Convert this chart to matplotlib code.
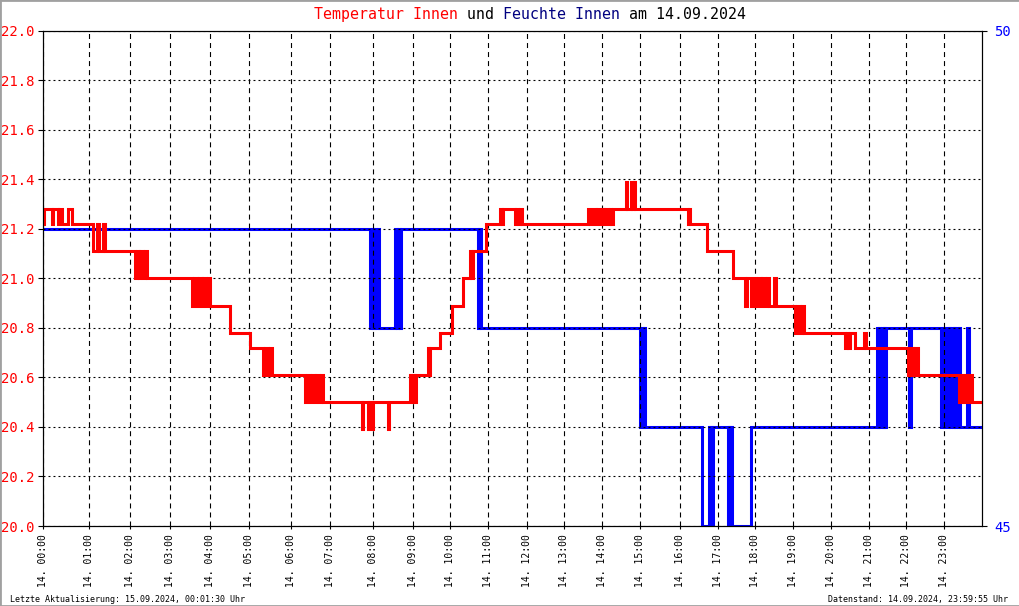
import matplotlib
matplotlib.use('Agg')
import matplotlib.pyplot as plt
from matplotlib.patches import Rectangle

plt.rcParams['font.family'] = 'DejaVu Sans Mono'
plt.rcParams['lines.scale_dashes'] = False

# x axis of the original is the sample number, hours start at these samples
n_samples = 939
hour_idx = [0, 46, 87, 127, 167, 206, 248, 287, 330, 370, 407, 445,
            484, 521, 559, 597, 637, 675, 712, 750, 788, 826, 863, 901]
hour_labels = ['14. %02d:00' % h for h in range(24)]

# Temperatur Innen (left axis), value changes at sample number
temp_idx = [0, 1, 9, 10, 15, 16, 19, 25, 29,
            50, 54, 56, 60, 62,
            92, 94, 96, 97, 100, 102, 104,
            149, 151, 154, 156, 159, 160, 163, 165, 167,
            187, 207,
            220, 222, 225, 227, 229,
            262, 264, 267, 269, 272, 273, 276, 278, 280,
            319, 320, 325, 326, 329, 330, 345, 346,
            367, 369, 370, 372, 373,
            385, 386, 387,
            397, 409, 420, 427, 428, 430,
            443, 457, 459, 460, 472, 473, 475, 477, 479,
            545, 547, 550, 553, 554, 557, 559, 561, 562, 565, 567, 568, 570,
            583, 584, 588, 589, 591, 592,
            645, 646, 647,
            664, 690,
            702, 704, 708, 711, 713, 715, 718, 719, 722, 724, 726, 731, 733,
            752, 754, 757, 759, 761,
            802, 804, 805, 807, 812, 821, 823,
            865, 867, 870, 872, 875,
            916, 918, 921, 922, 925, 926, 929]
temp_val = [21.22, 21.28, 21.22, 21.28, 21.22, 21.28, 21.22, 21.28, 21.22,
            21.11, 21.22, 21.11, 21.22, 21.11,
            21.00, 21.11, 21.00, 21.11, 21.00, 21.11, 21.00,
            20.89, 21.00, 20.89, 21.00, 20.89, 21.00, 20.89, 21.00, 20.89,
            20.78, 20.72,
            20.61, 20.72, 20.61, 20.72, 20.61,
            20.50, 20.61, 20.50, 20.61, 20.50, 20.61, 20.50, 20.61, 20.50,
            20.39, 20.50, 20.39, 20.50, 20.39, 20.50, 20.39, 20.50,
            20.61, 20.50, 20.61, 20.50, 20.61,
            20.72, 20.61, 20.72,
            20.78, 20.89, 21.00, 21.11, 21.00, 21.11,
            21.22, 21.28, 21.22, 21.28, 21.22, 21.28, 21.22, 21.28, 21.22,
            21.28, 21.22, 21.28, 21.22, 21.28, 21.22, 21.28, 21.22, 21.28, 21.22, 21.28, 21.22, 21.28,
            21.39, 21.28, 21.39, 21.28, 21.39, 21.28,
            21.22, 21.28, 21.22,
            21.11, 21.00,
            20.89, 21.00, 20.89, 21.00, 20.89, 21.00, 20.89, 21.00, 20.89, 21.00, 20.89, 21.00, 20.89,
            20.78, 20.89, 20.78, 20.89, 20.78,
            20.72, 20.78, 20.72, 20.78, 20.72, 20.78, 20.72,
            20.61, 20.72, 20.61, 20.72, 20.61,
            20.50, 20.61, 20.50, 20.61, 20.50, 20.61, 20.50]

# Feuchte Innen (right axis)
hum_idx = [0, 327, 329, 330, 332, 333, 335, 336,
           352, 354, 355, 357, 358,
           435, 436, 438,
           597, 599, 600, 601, 602,
           659, 666, 667, 668, 669, 670,
           685, 686, 687, 688, 689,
           708,
           834, 835, 836, 837, 839, 840, 841, 842, 843,
           866, 868,
           898, 900, 901, 902,
           905, 906, 907, 908, 910, 911, 912, 913, 915, 916, 917,
           924, 926]
hum_val = [48, 47, 48, 47, 48, 47, 48, 47,
           48, 47, 48, 47, 48,
           47, 48, 47,
           46, 47, 46, 47, 46,
           45, 46, 45, 46, 45, 46,
           45, 46, 45, 46, 45,
           46,
           47, 46, 47, 46, 47, 46, 47, 46, 47,
           46, 47,
           46, 47, 46, 47,
           46, 47, 46, 47, 46, 47, 46, 47, 46, 47, 46,
           47, 46]

temp_ticks = [20.0, 20.2, 20.4, 20.6, 20.8, 21.0, 21.2, 21.4, 21.6, 21.8, 22.0]
hum_ticks = [45, 50]

fig = plt.figure(figsize=(10.2, 6.06), dpi=100)
ax = fig.add_axes([0.0424, 0.132, 0.9203, 0.8173])
ax2 = ax.twinx()
ax2.set_zorder(ax.get_zorder() - 1)
ax.patch.set_visible(False)

ax2.plot(hum_idx + [n_samples], hum_val + [hum_val[-1]], drawstyle='steps-post',
         color='#0000ff', lw=2.2, solid_joinstyle='miter')
ax.plot(temp_idx + [n_samples], temp_val + [temp_val[-1]], drawstyle='steps-post',
        color='#ff0000', lw=2.2, solid_joinstyle='miter')

ax.set_xlim(0, n_samples)
ax.set_ylim(20, 22)
ax2.set_ylim(45, 50)
ax.set_xticks(hour_idx, hour_labels, rotation=90)
ax.set_yticks(temp_ticks, ['%.1f' % v for v in temp_ticks])
ax2.set_yticks(hum_ticks, [str(v) for v in hum_ticks])

ax.set_axisbelow('line')
ax.xaxis.grid(True, color='black', lw=0.8, ls=(0, (3.6, 2.9)))
ax.yaxis.grid(True, color='black', lw=0.8, ls=(0, (1.4, 2.2)))

ax.tick_params(axis='y', direction='out', length=3.6, width=0.8, pad=2.5,
               labelsize=10, labelcolor='#ff0000')
ax.tick_params(axis='x', direction='out', length=2.5, width=0.8, pad=3, labelsize=7)
ax2.tick_params(axis='y', direction='out', length=3.6, width=0.8, pad=5,
                labelsize=10, labelcolor='#0000ff')
for a in (ax, ax2):
    for s in a.spines.values():
        s.set_linewidth(0.8)
        s.set_color('black')

# title in three colours
t1 = fig.text(0.3078, 0.963, 'Temperatur Innen', color='#ff0000', fontsize=10.75, va='bottom')
t2 = ax.annotate(' und', xy=(1, 0), xycoords=t1, color='black', fontsize=10.75,
                 va='bottom', annotation_clip=False)
t3 = ax.annotate(' Feuchte Innen', xy=(1, 0), xycoords=t2, color='#000080', fontsize=10.75,
                 va='bottom', annotation_clip=False)
ax.annotate(' am 14.09.2024', xy=(1, 0), xycoords=t3, color='black', fontsize=10.75,
            va='bottom', annotation_clip=False)

fig.text(0.0098, 0.0115, 'Letzte Aktualisierung: 15.09.2024, 00:01:30 Uhr',
         fontsize=6, va='center', ha='left')
fig.text(0.988, 0.0115, 'Datenstand: 14.09.2024, 23:59:55 Uhr',
         fontsize=6, va='center', ha='right')

fig.patches.append(Rectangle((0, 0), 1, 1, transform=fig.transFigure, fill=False,
                             edgecolor='#a0a0a0', lw=2))

fig.savefig('out.png', dpi=100)
